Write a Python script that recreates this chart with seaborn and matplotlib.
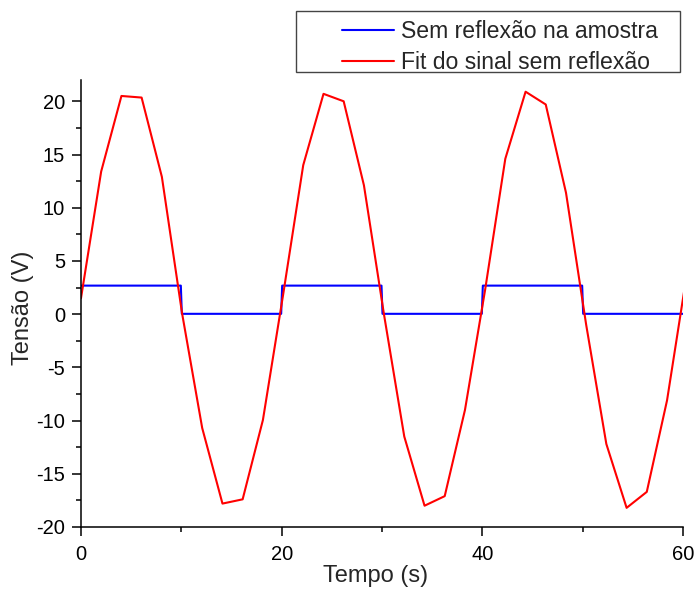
import numpy as np
import pandas as pd
import matplotlib
matplotlib.use("Agg")
import matplotlib.pyplot as plt
import seaborn as sns
from matplotlib.patches import Rectangle
from matplotlib.ticker import MultipleLocator

# Fit curve (sampled)
fit_t = [0.00, 2.01, 4.03, 6.04, 8.06, 10.07, 12.08, 14.10, 16.11, 18.13,
         20.14, 22.15, 24.17, 26.18, 28.20, 30.21, 32.22, 34.24, 36.25, 38.27,
         40.28, 42.29, 44.31, 46.32, 48.34, 50.35, 52.36, 54.38, 56.39, 58.41, 60.42]
fit_v = [1.5, 13.4, 20.5, 20.35, 12.9, 0.1, -10.7, -17.8, -17.4, -9.95,
         1.8, 14.0, 20.7, 20.0, 12.1, -0.1, -11.5, -18.0, -17.1, -9.0,
         2.3, 14.6, 20.9, 19.7, 11.4, -1.0, -12.2, -18.2, -16.7, -8.1, 4.0]

# Measured square signal
sig_t = [0.0, 9.95, 10.05, 19.95, 20.05, 29.95, 30.05, 39.95, 40.05, 49.95, 50.05, 60.0]
sig_v = [2.68, 2.68, 0.03, 0.03, 2.68, 2.68, 0.03, 0.03, 2.68, 2.68, 0.03, 0.03]

lbl_sig = "Sem reflexão na amostra"
lbl_fit = "Fit do sinal sem reflexão"

sns.set_style("ticks")
plt.rcParams['font.family'] = ['Liberation Sans', 'DejaVu Sans']
plt.rcParams['axes.unicode_minus'] = False

W, H = 696, 592
fig = plt.figure(figsize=(W / 100, H / 100), dpi=100)
ax = fig.add_axes([81 / W, 1 - 527 / H, (683 - 81) / W, (527 - 80) / H])

df_sig = pd.DataFrame({"t": sig_t, "v": sig_v})
df_fit = pd.DataFrame({"t": fit_t, "v": fit_v})
sns.lineplot(data=df_sig, x="t", y="v", ax=ax, color="#0000ff", lw=1.5,
             estimator=None, sort=False, label=lbl_sig)
sns.lineplot(data=df_fit, x="t", y="v", ax=ax, color="#ff0000", lw=1.5,
             estimator=None, sort=False, label=lbl_fit)

ax.set_xlim(0, 60)
ax.set_ylim(-20, 22)
ax.xaxis.set_major_locator(MultipleLocator(20))
ax.xaxis.set_minor_locator(MultipleLocator(10))
ax.yaxis.set_major_locator(MultipleLocator(5))
ax.yaxis.set_minor_locator(MultipleLocator(2.5))
ax.tick_params(which="major", direction="out", length=6.5, width=1.1,
               labelsize=14.5, color="black", labelcolor="black", pad=5)
ax.tick_params(axis="x", which="major", pad=6.5)
ax.tick_params(which="minor", direction="out", length=3.5, width=1.1, color="black")
for s in ["top", "right"]:
    ax.spines[s].set_visible(False)
for s in ["left", "bottom"]:
    ax.spines[s].set_linewidth(1.1)
    ax.spines[s].set_color("black")

ax.set_xlabel("Tempo (s)", fontsize=17)
ax.xaxis.set_label_coords((376 - 81) / 602, -(565 - 527) / 447)
ax.set_ylabel("Tensão (V)", fontsize=17)
ax.yaxis.set_label_coords((34 - 81) / 602, 0.49)

handles, labels = ax.get_legend_handles_labels()
ax.get_legend().remove()
leg = fig.legend(handles, labels, loc="upper left",
                 bbox_to_anchor=(342 / W, 1 - 20 / H), frameon=False,
                 borderpad=0, borderaxespad=0, fontsize=16.6,
                 handlelength=2.25, handletextpad=0.3, labelspacing=0.33)
fig.patches.append(Rectangle((296 / W, 1 - 72 / H), (680 - 296) / W, (72 - 11) / H,
                             transform=fig.transFigure, fill=False,
                             edgecolor="#444444", lw=1.0))

fig.savefig("out.png", dpi=100)
